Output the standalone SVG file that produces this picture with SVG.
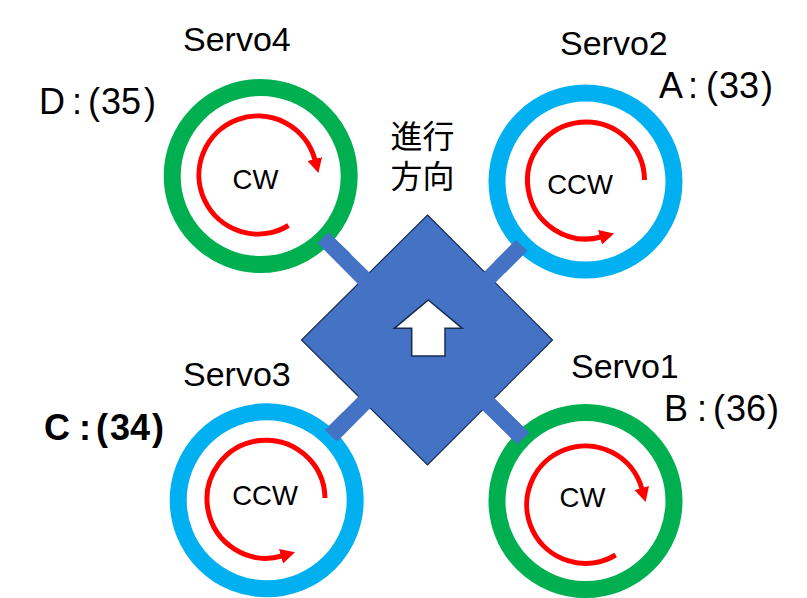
<svg xmlns="http://www.w3.org/2000/svg" width="807" height="598" viewBox="0 0 807 598">
<style>
text{font-family:"Liberation Sans","Noto Sans CJK JP",sans-serif;fill:#000}
.ring{fill:none;stroke-width:17}
.g{stroke:#00b050}
.b{stroke:#00b0f0}
.rot{fill:none;stroke:#f00;stroke-width:5;marker-end:url(#ah)}
.arm{fill:#4472c4}
.srv{font-size:34px}
.dir{font-size:27.5px;text-anchor:middle}
.pin{font-size:36px}
.cjk{font-family:"Noto Sans CJK JP",sans-serif;font-size:32px}
</style>
<defs>
<marker id="ah" markerUnits="userSpaceOnUse" markerWidth="16" markerHeight="16" refX="1" refY="8" orient="auto">
<polygon points="0,0.5 14.5,8 0,15.5" fill="#f00"/>
</marker>
</defs>
<rect width="807" height="598" fill="#fff"/>
<g id="body">
<polygon points="427.5,215 552.5,340 427.5,465 301.5,340" fill="#4472c4" stroke="#172c51" stroke-width="1.2"/>
<polygon points="428.3,300 462.3,328.3 445,328.3 445,356 411.7,356 411.7,328.3 394.3,328.3" fill="#fff" stroke="#172c51" stroke-width="1.5"/>
</g>
<g id="connectors">
<polygon class="arm" points="328.5,232.5 317.5,243 359,285 370,273"/>
<polygon class="arm" points="516,240 527.3,250.7 491.3,286.7 480,276"/>
<polygon class="arm" points="325,430 336.7,441.7 375.7,402.7 364,391"/>
<polygon class="arm" points="493.3,397.3 481.7,409.3 517.3,444.3 529.3,432.7"/>
</g>
<g id="servo4">
<circle class="ring g" cx="260.7" cy="176" r="88.5"/>
<path class="arm" d="M328.5,232.5 317.5,243 340,265 351,254Z"/>
<path class="rot" d="M288.5,225.5A59,59 0 1 1 315,160"/>
<text class="dir" x="255.5" y="188.5">CW</text>
<text class="srv" x="183" y="51">Servo4</text>
<text class="pin" x="39 72 88 101 121 144" y="114">D:(35)</text>
</g>
<g id="servo2">
<circle class="ring b" cx="585.5" cy="181.5" r="88.5"/>
<path class="arm" d="M516,240 527.3,250.7 505,273 494,262Z"/>
<path class="rot" d="M644.5,180A58.5,58.5 0 1 0 601,237"/>
<text class="dir" x="580" y="194">CCW</text>
<text class="srv" x="560" y="55">Servo2</text>
<text class="pin" x="659 688 706 719 739 761" y="98">A:(33)</text>
</g>
<g id="servo3">
<circle class="ring b" cx="266.7" cy="500.3" r="88.5"/>
<path class="arm" d="M325,430 336.7,441.7 355,423 343,412Z"/>
<path class="rot" d="M325,498A59,59 0 1 0 282,556"/>
<text class="dir" x="265" y="505">CCW</text>
<text class="srv" x="183" y="386">Servo3</text>
<text class="pin" x="44 79 96 110 130 152" y="440" font-weight="bold">C:(34)</text>
</g>
<g id="servo1">
<circle class="ring g" cx="585.5" cy="501" r="88.5"/>
<path class="arm" d="M493.3,397.3 481.7,409.3 517.3,444.3 529.3,432.7Z"/>
<path class="rot" d="M615.7,555A58.7,58.7 0 1 1 642,489"/>
<text class="dir" x="582.5" y="507">CW</text>
<text class="srv" x="571" y="378">Servo1</text>
<text class="pin" x="664 697 713 726 746 767" y="421">B:(36)</text>
</g>
<g id="direction">
<text class="cjk"><tspan x="390.5" y="147.5">進行</tspan><tspan x="390.5" y="187.5">方向</tspan></text>
</g>
</svg>
